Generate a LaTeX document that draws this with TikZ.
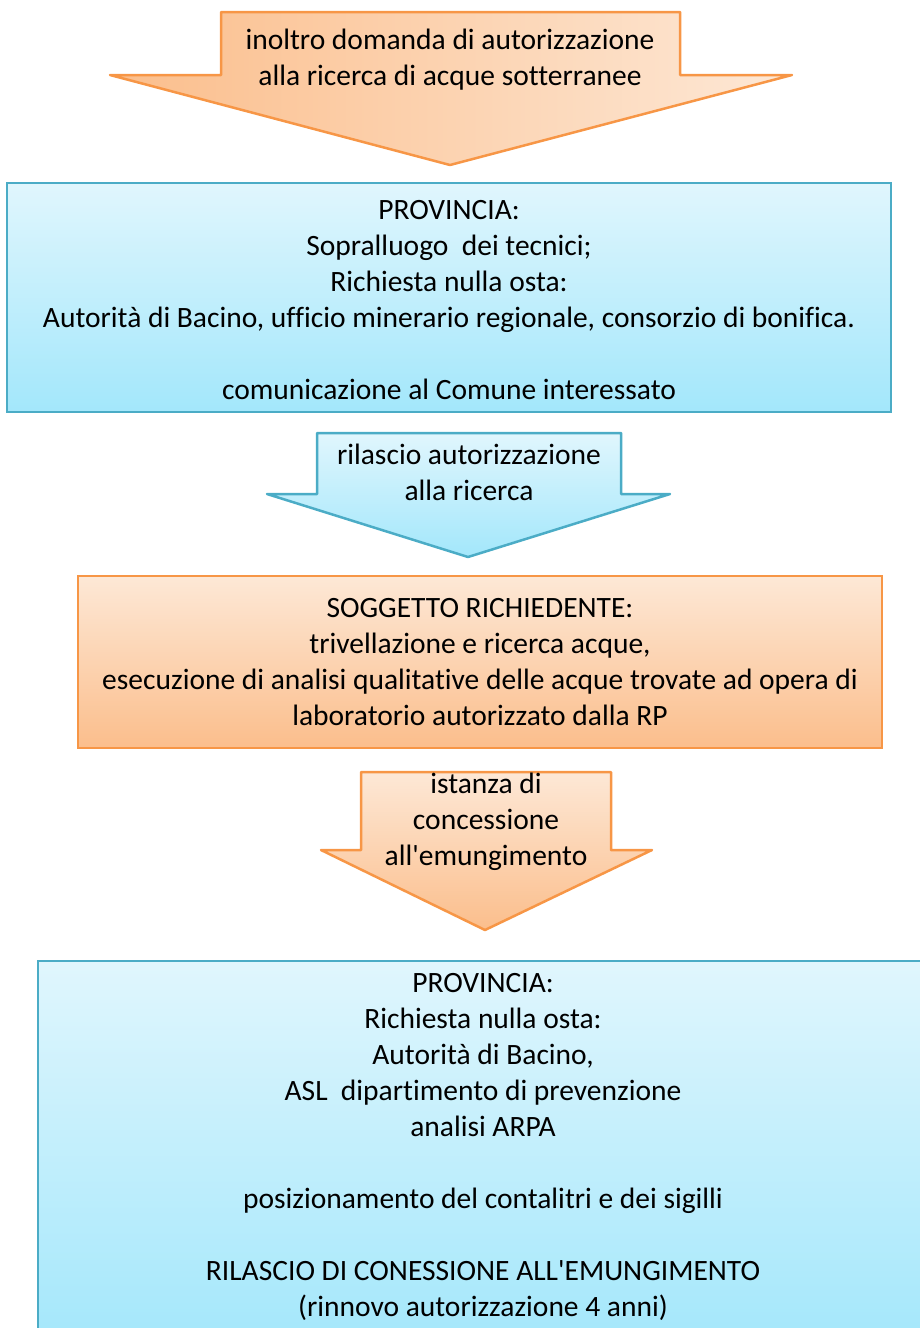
\documentclass[tikz,border=0pt]{standalone}
\usepackage{fontspec}
\setmainfont{Carlito}[Ligatures={NoCommon}]
\usetikzlibrary{positioning}

\definecolor{bluetop}{HTML}{E0F6FD}
\definecolor{bluebot}{HTML}{A3E7FB}
\definecolor{blueline}{HTML}{4BACC6}
\definecolor{orangetop}{HTML}{FDE8D6}
\definecolor{orangebot}{HTML}{FBBE8C}
\definecolor{orangeline}{HTML}{F79646}

\begin{document}
\begin{tikzpicture}[x=1pt,y=-1pt,
    txt/.style={align=center, inner sep=0pt, font=\fontsize{29.5}{36}\selectfont},
    bluebox/.style={draw=blueline, line width=2.5pt, top color=bluetop, bottom color=bluebot},
    orangebox/.style={draw=orangeline, line width=2.5pt, top color=orangetop, bottom color=orangebot},
    orangeside/.style={draw=orangeline, line width=2.5pt, left color=orangebot, right color=orangetop, line join=round}]
\useasboundingbox (0,0) rectangle (919,1328);

% block arrows and boxes
\path[orangeside] (221,12) -- (680,12) -- (680,75) -- (792,75) -- (450,165)
    -- (110,75) -- (221,75) -- cycle;
\path[bluebox] (7,183) rectangle (891,412);
\path[bluebox, line join=round] (317,433) -- (621,433) -- (621,494) -- (670,494)
    -- (468,557) -- (267,494) -- (317,494) -- cycle;
\path[orangebox] (78,576) rectangle (882,748);
\path[orangebox, line join=round] (361,772) -- (611,772) -- (611,850) -- (652,850)
    -- (485,930) -- (321,850) -- (361,850) -- cycle;
\path[bluebox] (38,961) rectangle (940,1350);

% texts
\node[txt] (domanda) at (450,60) {inoltro domanda di autorizzazione\\alla ricerca di acque sotterranee};
\node[txt] (prov1) at (449,300) {PROVINCIA:\\Sopralluogo\ \ dei tecnici;\\Richiesta nulla osta:\\
    Autorità di Bacino, ufficio minerario regionale, consorzio di bonifica.\\[36pt]
    comunicazione al Comune interessato};
\node[txt] (rilascio) at (469,472) {rilascio autorizzazione\\alla ricerca};
\node[txt] (sogg) at (480,662) {SOGGETTO RICHIEDENTE:\\trivellazione e ricerca acque,\\
    esecuzione di analisi qualitative delle acque trovate ad opera di\\laboratorio autorizzato dalla RP};
\node[txt] (istanza) at (486,822) {istanza di\\concessione\\all\textquotesingle emungimento};
\node[txt] (prov2) at (483,1147) {PROVINCIA:\\Richiesta nulla osta:\\Autorità di Bacino,\\
    ASL\ \ dipartimento di prevenzione\\analisi ARPA\\[36pt]
    posizionamento del contalitri e dei sigilli\\[36pt]
    RILASCIO DI CONESSIONE ALL\textquotesingle EMUNGIMENTO\\(rinnovo autorizzazione 4 anni)};
\end{tikzpicture}
\end{document}
